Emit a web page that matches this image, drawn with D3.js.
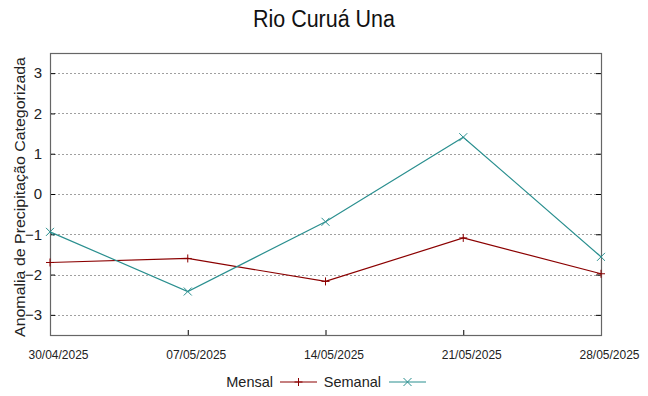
<!DOCTYPE html>
<html>
<head>
<meta charset="utf-8">
<script src="https://cdn.jsdelivr.net/npm/d3@7"></script>
<style>
  body { margin: 0; background: #fff; }
  svg { font-family: "Liberation Sans", Arial, sans-serif; }
</style>
</head>
<body>
<div id="chart"></div>
<script>
// dados
var datas = ["30/04/2025", "07/05/2025", "14/05/2025", "21/05/2025", "28/05/2025"];
var mensal = [-1.70, -1.60, -2.17, -1.09, -1.98];
var semanal = [-0.94, -2.42, -0.69, 1.41, -1.56];
var yTicks = [-3, -2, -1, 0, 1, 2, 3];

var width = 648, height = 396;
var margem = { top: 53, right: 47, bottom: 61, left: 50 };

var parse = d3.timeParse("%d/%m/%Y");
var fmt = d3.timeFormat("%d/%m/%Y");
var dias = datas.map(parse);

var svg = d3.select("#chart").append("svg")
  .attr("width", width)
  .attr("height", height);

var x = d3.scaleTime()
  .domain(d3.extent(dias))
  .range([margem.left, width - margem.right]);

var y = d3.scaleLinear()
  .domain([-3.5, 3.5])
  .range([height - margem.bottom, margem.top]);

// grade horizontal
svg.append("g")
  .selectAll("line")
  .data(yTicks)
  .enter()
  .append("line")
  .attr("x1", margem.left)
  .attr("x2", width - margem.right)
  .attr("y1", function(d) { return Math.round(y(d)) + 0.5; })
  .attr("y2", function(d) { return Math.round(y(d)) + 0.5; })
  .style("stroke", "#a0a0a0")
  .style("stroke-width", 1)
  .style("stroke-dasharray", "2,2");

// eixo y esquerdo (ticks para dentro)
var eixoY = svg.append("g")
  .attr("transform", "translate(" + margem.left + ",0)")
  .call(d3.axisLeft(y).tickValues(yTicks).tickSize(-5).tickPadding(8).tickFormat(d3.format("d")));
eixoY.select(".domain").remove();
eixoY.selectAll("text").style("font-size", "15px").style("fill", "#222");
eixoY.selectAll(".tick line").style("stroke", "#000");

// eixo y direito (espelho)
var eixoY2 = svg.append("g")
  .attr("transform", "translate(" + (width - margem.right) + ",0)")
  .call(d3.axisRight(y).tickValues(yTicks).tickSize(-5).tickFormat(""));
eixoY2.select(".domain").remove();
eixoY2.selectAll(".tick line").style("stroke", "#000");

// eixo x (rotulos deslocados um pouco para a direita, como no original)
var eixoX = svg.append("g")
  .attr("transform", "translate(0," + (height - margem.bottom) + ")")
  .call(d3.axisBottom(x).tickValues(dias).tickSize(-5).tickPadding(15).tickFormat(fmt));
eixoX.select(".domain").remove();
eixoX.selectAll("text")
  .attr("dx", 8)
  .style("font-size", "12px")
  .style("fill", "#222");
eixoX.selectAll(".tick line").style("stroke", "#000");

// borda
svg.append("rect")
  .attr("x", margem.left + 0.5)
  .attr("y", margem.top + 0.5)
  .attr("width", width - margem.left - margem.right)
  .attr("height", height - margem.top - margem.bottom)
  .style("fill", "none")
  .style("stroke", "#666")
  .style("stroke-width", 1.2);

var series = [
  { nome: "Mensal", valores: mensal, cor: "#8b0000", marca: "mais" },
  { nome: "Semanal", valores: semanal, cor: "#2a8f8f", marca: "x" }
];

var linha = d3.line()
  .x(function(d, i) { return x(dias[i]); })
  .y(function(d) { return y(d); });

function desenhaMarca(g, tipo, cx, cy, cor) {
  var s = 4;
  if (tipo === "mais") {
    g.append("path")
      .attr("d", "M" + (cx - s) + "," + cy + "H" + (cx + s) + "M" + cx + "," + (cy - s) + "V" + (cy + s))
      .style("stroke", cor).style("stroke-width", 1).style("fill", "none");
  } else {
    g.append("path")
      .attr("d", "M" + (cx - s) + "," + (cy - s) + "L" + (cx + s) + "," + (cy + s) + "M" + (cx - s) + "," + (cy + s) + "L" + (cx + s) + "," + (cy - s))
      .style("stroke", cor).style("stroke-width", 1).style("fill", "none");
  }
}

series.forEach(function(s) {
  var g = svg.append("g");
  g.append("path")
    .datum(s.valores)
    .attr("d", linha)
    .style("fill", "none")
    .style("stroke", s.cor)
    .style("stroke-width", 1.2);
  s.valores.forEach(function(v, i) {
    desenhaMarca(g, s.marca, x(dias[i]), y(v), s.cor);
  });
});

// titulo
svg.append("text")
  .attr("x", width / 2)
  .attr("y", 27)
  .attr("text-anchor", "middle")
  .attr("textLength", 142)
  .attr("lengthAdjust", "spacingAndGlyphs")
  .style("font-size", "23px")
  .style("fill", "#111")
  .text("Rio Curuá Una");

// rotulo y
svg.append("text")
  .attr("transform", "translate(25," + ((margem.top + height - margem.bottom) / 2 + 3) + ") rotate(-90)")
  .attr("text-anchor", "middle")
  .attr("textLength", 280)
  .attr("lengthAdjust", "spacingAndGlyphs")
  .style("font-size", "15px")
  .style("fill", "#222")
  .text("Anomalia de Precipitação Categorizada");

// legenda
var legY = 382;
var legenda = [
  { nome: "Mensal", xTexto: 273, x1: 280, x2: 317 },
  { nome: "Semanal", xTexto: 381, x1: 389, x2: 426 }
];
legenda.forEach(function(l, i) {
  var s = series[i];
  svg.append("text")
    .attr("x", l.xTexto)
    .attr("y", legY + 5)
    .attr("text-anchor", "end")
    .style("font-size", "14.5px")
    .style("fill", "#222")
    .text(l.nome);
  svg.append("line")
    .attr("x1", l.x1).attr("x2", l.x2)
    .attr("y1", legY).attr("y2", legY)
    .style("stroke", s.cor).style("stroke-width", 1.2);
  desenhaMarca(svg, s.marca, (l.x1 + l.x2) / 2, legY, s.cor);
});
</script>
</body>
</html>
